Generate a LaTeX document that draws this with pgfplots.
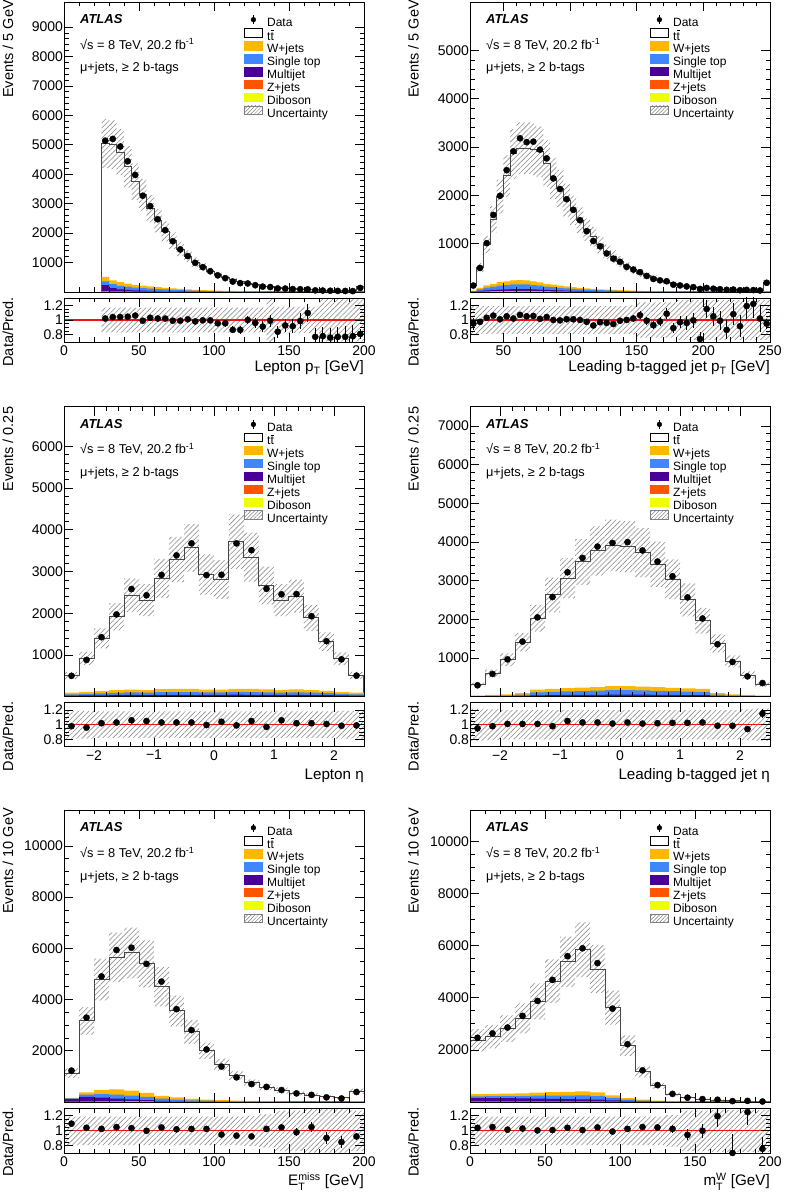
\documentclass[border=0pt]{standalone}
\usepackage{fontspec}
\setmainfont{Liberation Sans}
\usepackage{amsmath}
\usepackage{pgfplots}
\usepackage{pgfplotstable}
\pgfplotsset{compat=1.18}
\usepgfplotslibrary{fillbetween}
\usetikzlibrary{patterns,patterns.meta}

\definecolor{cW}{RGB}{255,183,0}
\definecolor{cST}{RGB}{64,134,255}
\definecolor{cMJ}{RGB}{72,0,150}
\definecolor{cZ}{RGB}{255,85,0}
\definecolor{cDB}{RGB}{240,255,0}
\definecolor{cRed}{RGB}{235,20,20}

\newcommand{\ttbar}{t\kern0.3pt$\overline{\text{t}}$}

% ---------------- Panel A: lepton pT ----------------
\pgfplotstableread{
x mc wj st mj zj db u ru
25 5040 150 130 200 25 5 0.165 0.17
30 5000 130 130 110 20 5 0.165 0.17
35 4750 120 120 70 18 4 0.165 0.17
40 4250 105 110 50 15 4 0.165 0.17
45 3750 95 100 35 13 3 0.165 0.17
50 3300 85 90 28 12 3 0.165 0.17
55 2830 75 80 22 10 3 0.165 0.17
60 2420 65 70 18 9 2 0.165 0.17
65 2060 57 60 15 8 2 0.165 0.17
70 1740 50 52 12 7 2 0.165 0.17
75 1460 44 44 10 6 2 0.165 0.17
80 1210 38 37 8 5 2 0.165 0.17
85 1010 33 31 7 4 1 0.165 0.17
90 850 28 26 6 4 1 0.165 0.17
95 710 24 22 5 3 1 0.165 0.17
100 590 21 18 4 3 1 0.165 0.17
105 490 18 15 3 2 1 0.165 0.17
110 410 15 13 3 2 1 0.165 0.17
115 345 13 11 2 2 1 0.165 0.17
120 290 11 9 2 1 1 0.165 0.17
125 240 10 8 2 1 0 0.165 0.17
130 200 9 7 1 1 0 0.17 0.17
135 170 8 6 1 1 0 0.3 0.3
140 145 7 5 1 1 0 0.18 0.18
145 125 6 4 1 1 0 0.18 0.18
150 108 5 4 1 1 0 0.18 0.18
155 95 5 3 1 0 0 0.18 0.18
160 82 4 3 1 0 0 0.18 0.18
165 72 4 3 0 0 0 0.18 0.18
170 63 3 2 0 0 0 0.29 0.29
175 56 3 2 0 0 0 0.29 0.29
180 50 3 2 0 0 0 0.29 0.29
185 45 2 2 0 0 0 0.29 0.29
190 40 2 2 0 0 0 0.29 0.29
195 170 8 6 1 1 0 0.29 0.29
200 170 8 6 1 1 0 0.29 0.29
}\hA
\pgfplotstableread{
c d de r re
27.5 5140 72 1.02 0.015
32.5 5200 72 1.04 0.015
37.5 4940 70 1.04 0.016
42.5 4440 67 1.045 0.017
47.5 3975 63 1.06 0.018
52.5 3270 57 0.99 0.018
57.5 2915 54 1.03 0.02
62.5 2470 50 1.02 0.022
67.5 2100 46 1.02 0.023
72.5 1725 42 0.99 0.025
77.5 1445 38 0.99 0.027
82.5 1220 35 1.01 0.03
87.5 990 31 0.98 0.032
92.5 845 29 0.995 0.035
97.5 705 27 0.995 0.038
102.5 565 24 0.955 0.041
107.5 470 22 0.955 0.045
112.5 355 19 0.865 0.047
117.5 300 17 0.865 0.051
122.5 290 17 1.0 0.06
127.5 230 15 0.96 0.065
132.5 182 13 0.91 0.07
137.5 168 13 0.99 0.08
142.5 122 11 0.84 0.08
147.5 116 11 0.925 0.09
152.5 99 10 0.915 0.095
157.5 94 10 0.985 0.105
162.5 90 9.5 1.095 0.12
167.5 55 7.4 0.77 0.12
172.5 49 7 0.78 0.125
177.5 43 6.6 0.76 0.13
182.5 38 6.2 0.77 0.14
187.5 35 5.9 0.77 0.145
192.5 31 5.6 0.78 0.15
197.5 138 12 0.81 0.07
}\dA

% ---------------- Panel B: leading b-jet pT ----------------
\pgfplotstableread{
x mc wj st mj zj db u ru
25 140 10 12 5 2 1 0.18 0.19
30 510 30 34 13 6 2 0.18 0.19
35 980 47 54 20 10 4 0.18 0.19
40 1505 60 68 25 12 5 0.18 0.19
45 1970 72 82 31 14 6 0.18 0.19
50 2400 77 88 33 15 7 0.18 0.19
55 2855 84 96 36 17 7 0.18 0.19
60 2975 86 98 37 17 7 0.18 0.19
65 2975 84 96 36 17 7 0.18 0.19
70 2950 77 88 33 15 7 0.18 0.19
75 2900 70 80 30 14 6 0.18 0.19
80 2660 60 68 25 12 5 0.18 0.19
85 2350 52 60 23 11 4 0.18 0.19
90 2140 46 52 19 9 4 0.18 0.19
95 1900 40 46 17 8 4 0.18 0.19
100 1685 35 40 15 7 3 0.18 0.19
105 1485 30 34 13 6 2 0.18 0.19
110 1290 26 30 11 6 2 0.18 0.19
115 1140 23 26 10 4 2 0.18 0.19
120 975 19 22 8 4 2 0.18 0.19
125 830 17 19 7 3 2 0.18 0.19
130 730 15 17 6 3 1 0.18 0.19
135 630 13 14 5 3 1 0.18 0.19
140 520 11 12 5 2 1 0.18 0.19
145 455 9 11 4 2 1 0.19 0.2
150 385 8 9 4 1 1 0.2 0.24
155 335 7 8 3 1 1 0.2 0.24
160 290 6 7 2 1 1 0.2 0.24
165 245 5 6 2 1 1 0.2 0.24
170 205 5 5 2 1 0 0.22 0.24
175 170 4 4 2 1 0 0.22 0.24
180 140 4 4 1 1 0 0.25 0.27
185 120 3 4 1 1 0 0.25 0.27
190 100 3 3 1 1 0 0.25 0.27
195 85 3 3 1 0 0 0.25 0.27
200 72 2 3 1 0 0 0.25 0.27
205 65 2 2 1 0 0 0.25 0.27
210 58 2 2 1 0 0 0.25 0.27
215 52 2 2 0 0 0 0.25 0.27
220 46 2 2 0 0 0 0.25 0.27
225 40 1 2 0 0 0 0.25 0.27
230 37 1 2 0 0 0 0.25 0.27
235 32 1 2 0 0 0 0.25 0.27
240 30 1 2 0 0 0 0.25 0.27
245 200 8 8 2 1 1 0.25 0.27
250 200 8 8 2 1 1 0.25 0.27
}\hB
\pgfplotstableread{
c d de r re
27.5 133 11.5 0.95 0.083
32.5 497 22 0.975 0.044
37.5 1010 32 1.03 0.032
42.5 1595 40 1.06 0.027
47.5 1990 45 1.01 0.023
52.5 2520 50 1.05 0.021
57.5 2910 54 1.02 0.019
62.5 3180 56 1.07 0.019
67.5 3100 56 1.05 0.019
72.5 3110 56 1.055 0.019
77.5 2945 54 1.015 0.019
82.5 2765 53 1.04 0.02
87.5 2350 48 1.0 0.021
92.5 2130 46 0.995 0.022
97.5 1920 44 1.01 0.023
102.5 1700 41 1.01 0.025
107.5 1485 39 1.0 0.026
112.5 1258 35 0.975 0.027
117.5 1055 32 0.925 0.028
122.5 945 31 0.97 0.031
127.5 797 28 0.96 0.034
132.5 690 26 0.945 0.036
137.5 624 25 0.99 0.04
142.5 520 23 1.0 0.044
147.5 464 22 1.02 0.047
152.5 410 20 1.065 0.053
157.5 332 18 0.99 0.054
162.5 270 16 0.93 0.057
167.5 240 15.5 0.98 0.063
172.5 222 15 1.085 0.073
177.5 151 12 0.89 0.072
182.5 136 12 0.97 0.083
187.5 115 11 0.96 0.09
192.5 100 10 0.995 0.1
197.5 63 8 0.74 0.093
202.5 83 9 1.15 0.126
207.5 68 8 1.05 0.127
212.5 57 7.5 0.99 0.131
217.5 45 6.7 0.865 0.129
222.5 50 7 1.08 0.153
227.5 37 6 0.915 0.15
232.5 44 6.6 1.19 0.18
237.5 39 6.2 1.22 0.195
242.5 31 5.6 1.02 0.183
247.5 190 14 0.95 0.069
}\dB

% ---------------- Panel C: lepton eta ----------------
\pgfplotstableread{
x mc wj st mj zj db u ru
-2.5 510 38 33 16 6 2 0.17 0.19
-2.25 918 46 40 20 7 2 0.17 0.19
-2.0 1397 54 47 23 8 3 0.17 0.18
-1.75 1915 62 54 26 10 3 0.17 0.18
-1.5 2434 68 60 29 10 3 0.165 0.18
-1.25 2314 64 56 27 10 3 0.165 0.18
-1.0 2833 72 63 31 11 3 0.165 0.18
-0.75 3288 74 65 31 11 4 0.165 0.18
-0.5 3567 74 65 31 11 4 0.16 0.18
-0.25 2929 68 60 29 10 3 0.165 0.18
0 2809 68 60 29 10 3 0.165 0.18
0.25 3711 76 66 32 12 4 0.175 0.18
0.5 3344 74 65 31 11 4 0.175 0.18
0.75 2666 70 61 30 11 3 0.17 0.18
1.0 2314 66 58 28 10 3 0.165 0.18
1.25 2410 70 61 30 11 3 0.165 0.18
1.5 1891 64 56 27 10 3 0.165 0.18
1.75 1317 56 49 24 8 3 0.17 0.18
2.0 910 46 40 20 7 2 0.17 0.19
2.25 510 38 33 16 6 2 0.17 0.19
2.5 510 38 33 16 6 2 0.17 0.19
}\hC
\pgfplotstableread{
c d de r re
-2.375 500 22 0.98 0.044
-2.125 881 30 0.96 0.033
-1.875 1425 38 1.02 0.027
-1.625 1972 44 1.03 0.023
-1.375 2580 51 1.06 0.021
-1.125 2430 49 1.05 0.021
-0.875 2918 54 1.03 0.019
-0.625 3387 58 1.03 0.018
-0.375 3674 61 1.03 0.017
-0.125 2914 54 0.995 0.018
0.125 2921 54 1.04 0.019
0.375 3674 61 0.99 0.016
0.625 3511 59 1.05 0.018
0.875 2586 51 0.97 0.019
1.125 2453 50 1.06 0.021
1.375 2458 50 1.02 0.021
1.625 1929 44 1.02 0.023
1.875 1330 36 1.01 0.028
2.125 896 30 0.985 0.033
2.375 505 22 0.99 0.044
}\dC

% ---------------- Panel D: leading b-jet eta ----------------
\pgfplotstableread{
x mc wj st mj zj db u ru
-2.5 310 11 13 4 1 1 0.17 0.22
-2.25 600 17 19 5 2 2 0.17 0.21
-2.0 955 23 25 7 3 2 0.17 0.2
-1.75 1410 34 38 11 5 2 0.17 0.2
-1.5 2031 68 76 22 9 5 0.17 0.2
-1.25 2630 76 84 24 10 6 0.17 0.2
-1.0 3064 84 92 26 11 7 0.17 0.2
-0.75 3485 89 99 28 12 7 0.17 0.2
-0.5 3769 95 105 30 12 8 0.17 0.2
-0.25 3916 103 113 32 14 8 0.17 0.2
0 3881 105 115 33 14 8 0.17 0.2
0.25 3726 99 109 31 13 8 0.17 0.2
0.5 3425 93 103 29 12 8 0.17 0.2
0.75 3038 87 97 28 11 7 0.17 0.2
1.0 2504 82 90 26 11 6 0.17 0.2
1.25 1962 76 84 24 10 6 0.17 0.2
1.5 1377 34 38 11 5 2 0.17 0.2
1.75 912 23 25 7 3 2 0.17 0.2
2.0 559 17 19 5 2 2 0.17 0.21
2.25 310 11 13 4 1 1 0.17 0.22
2.5 310 11 13 4 1 1 0.17 0.22
}\hD
\pgfplotstableread{
c d de r re
-2.375 295 17 0.95 0.056
-2.125 588 24 0.98 0.04
-1.875 965 31 1.01 0.033
-1.625 1424 38 1.01 0.027
-1.375 2051 45 1.01 0.022
-1.125 2577 51 0.98 0.019
-0.875 3217 57 1.05 0.019
-0.625 3590 60 1.03 0.017
-0.375 3882 62 1.03 0.017
-0.125 3975 63 1.015 0.016
0.125 3997 63 1.03 0.016
0.375 3782 61 1.015 0.017
0.625 3494 59 1.02 0.017
0.875 3114 56 1.025 0.018
1.125 2567 51 1.025 0.02
1.375 2021 45 1.03 0.023
1.625 1356 37 0.985 0.027
1.875 898 30 0.985 0.033
2.125 525 23 0.94 0.041
2.375 353 19 1.15 0.061
}\dD

% ---------------- Panel E: MET ----------------
\pgfplotstableread{
x mc wj st mj zj db u ru
0 1120 20 30 100 8 2 0.17 0.19
10 3165 90 90 180 15 5 0.17 0.19
20 4783 160 140 140 22 8 0.17 0.19
30 5650 200 160 100 22 8 0.17 0.19
40 5819 190 150 70 20 10 0.17 0.19
50 5392 160 130 45 15 10 0.17 0.19
60 4498 110 90 25 10 5 0.17 0.19
70 3553 85 70 15 7 3 0.17 0.19
80 2738 62 50 10 5 3 0.17 0.19
90 2000 45 38 6 4 2 0.16 0.19
100 1456 34 28 4 3 1 0.16 0.19
110 1029 25 21 3 2 1 0.16 0.19
120 757 19 16 2 2 1 0.17 0.2
130 576 14 12 2 1 1 0.2 0.22
140 447 11 9 1 1 1 0.25 0.27
150 343 9 7 1 1 0 0.25 0.27
160 265 7 5 1 1 0 0.27 0.29
170 200 5 4 1 1 0 0.27 0.29
180 162 4 4 0 1 0 0.27 0.29
190 420 15 11 2 1 1 0.25 0.27
200 420 15 11 2 1 1 0.25 0.27
}\hE
\pgfplotstableread{
c d de r re
5 1226 35 1.095 0.032
15 3292 57 1.04 0.019
25 4903 70 1.025 0.016
35 5932 77 1.05 0.015
45 6023 78 1.035 0.015
55 5392 73 1.0 0.015
65 4700 69 1.045 0.016
75 3624 60 1.02 0.018
85 2806 53 1.025 0.02
95 2050 45 1.025 0.024
105 1383 37 0.95 0.027
115 962 31 0.935 0.032
125 700 26 0.925 0.037
135 590 24 1.025 0.044
145 467 22 1.045 0.05
155 336 18 0.98 0.056
165 278 17 1.05 0.066
175 181 13 0.905 0.075
185 138 12 0.85 0.085
195 389 20 0.925 0.05
}\dE

% ---------------- Panel F: mTW ----------------
\pgfplotstableread{
x mc wj st mj zj db u ru
0 2367 80 70 130 15 5 0.18 0.19
10 2507 85 75 130 15 5 0.18 0.19
20 2813 90 80 130 15 5 0.18 0.19
30 3209 100 90 120 15 5 0.18 0.19
40 3859 120 110 110 15 5 0.18 0.19
50 4638 135 125 100 15 5 0.18 0.19
60 5378 145 135 90 15 5 0.18 0.19
70 5838 160 150 80 15 5 0.18 0.19
80 5098 145 135 70 15 5 0.18 0.19
90 3617 95 90 50 10 5 0.18 0.19
100 2163 55 55 30 7 3 0.18 0.19
110 1155 33 33 18 4 2 0.18 0.19
120 622 20 20 11 3 1 0.18 0.19
130 303 13 13 7 1 1 0.2 0.21
140 176 8 8 4 1 1 0.25 0.27
150 112 6 5 3 1 0 0.25 0.27
160 73 4 3 2 1 0 0.27 0.28
170 48 3 2 1 1 0 0.27 0.28
180 35 2 2 1 0 0 0.27 0.28
190 25 2 1 1 0 0 0.27 0.28
200 25 2 1 1 0 0 0.27 0.28
}\hF
\pgfplotstableread{
c d de r re
5 2462 50 1.04 0.021
15 2632 51 1.05 0.021
25 2855 53 1.015 0.019
35 3305 57 1.03 0.018
45 3878 62 1.005 0.016
55 4684 68 1.01 0.015
65 5593 75 1.04 0.014
75 5896 77 1.01 0.013
85 5327 73 1.045 0.014
95 3581 60 0.99 0.017
105 2217 47 1.025 0.022
115 1213 35 1.05 0.03
125 650 25 1.045 0.041
135 311 18 1.025 0.058
145 166 13 0.945 0.073
155 112 11 1.0 0.095
165 87 9 1.195 0.14
175 34 6 0.705 0.25
185 44 7 1.25 0.17
195 19 4.4 0.76 0.16
}\dF

\pgfplotsset{
  atl/.style={scale only axis, width=300pt, axis on top, anchor=north west,
    axis line style={line width=0.8pt},
    xtick pos=both, ytick pos=both, tick align=inside,
    major tick length=9pt, minor tick length=4.5pt,
    every tick/.append style={black, line width=0.6pt},
    every minor tick/.append style={black, line width=0.6pt},
    tick label style={font=\fontsize{14}{16}\selectfont},
    yticklabel style={xshift=2.5pt},
    /pgf/number format/assume math mode=true,
    /pgf/number format/1000 sep={},
    scaled x ticks=false, scaled y ticks=false},
  mainax/.style={atl, xticklabel=\empty, ymin=0, minor y tick num=4,
    legend style={at={(rel axis cs:0.6,0.956)}, anchor=north west, draw=none, fill=none,
      inner sep=0pt, font=\fontsize{12}{13}\selectfont, row sep=-2.3pt, column sep=4pt,
      nodes={inner sep=0.5pt, text height=9pt, text depth=3pt}},
    legend cell align=left},
  ratax/.style={atl, height=44pt, ymin=0.7, ymax=1.3, ytick={0.8,1,1.2},
    yticklabels={0.8,1,1.2}, minor y tick num=3, clip mode=individual,
    every axis x label/.style={at={(rel axis cs:1,0)}, anchor=base east, inner sep=0pt,
      font=\fontsize{15.2}{18}\selectfont}},
  hatch/.style={draw=none, pattern={Lines[angle=45,distance=3.6pt,line width=0.6pt]}, pattern color=gray!90},
  dat/.style={only marks, mark=*, mark size=3.1pt, black,
    error bars/.cd, y dir=both, y explicit, error mark=none,
    error bar style={line width=1pt, black}},
}
\tikzset{ylab/.style={rotate=90, anchor=south east, inner sep=0pt, font=\fontsize{14.5}{17}\selectfont}}

\newcommand{\atlaslegend}{%
  \addlegendimage{legend image code/.code={\path[draw=none,fill=none] (0pt,-0.5pt) rectangle (18pt,9pt);
    \draw[black,line width=1pt] (9pt,0pt)--(9pt,8.5pt); \fill[black] (9pt,4.25pt) circle (2.4pt);}}
  \addlegendentry{Data}
  \addlegendimage{legend image code/.code={\draw[line width=0.7pt,fill=white] (0.35pt,0pt) rectangle (17.65pt,8.5pt);}}
  \addlegendentry{\ttbar}
  \addlegendimage{legend image code/.code={\fill[cW] (0pt,0pt) rectangle (18pt,8.5pt);}}
  \addlegendentry{W+jets}
  \addlegendimage{legend image code/.code={\fill[cST] (0pt,0pt) rectangle (18pt,8.5pt);}}
  \addlegendentry{Single top}
  \addlegendimage{legend image code/.code={\fill[cMJ] (0pt,0pt) rectangle (18pt,8.5pt);}}
  \addlegendentry{Multijet}
  \addlegendimage{legend image code/.code={\fill[cZ] (0pt,0pt) rectangle (18pt,8.5pt);}}
  \addlegendentry{Z+jets}
  \addlegendimage{legend image code/.code={\fill[cDB] (0pt,0pt) rectangle (18pt,8.5pt);}}
  \addlegendentry{Diboson}
  \addlegendimage{legend image code/.code={\draw[line width=0.5pt, gray, pattern={Lines[angle=45,distance=2.6pt,line width=0.5pt]}, pattern color=gray] (0.25pt,0pt) rectangle (17.75pt,8.5pt);}}
  \addlegendentry{Uncertainty}
}
\newcommand{\atlastext}{%
  \node[anchor=west,inner sep=0pt,font=\fontsize{13}{15}\selectfont\bfseries\itshape] at (rel axis cs:0.053,0.94) {ATLAS};
  \node[anchor=west,inner sep=0pt,font=\fontsize{12.8}{15}\selectfont] at (rel axis cs:0.053,0.853) {√s = 8 TeV, 20.2 fb$^{\text{-1}}$};
  \node[anchor=west,inner sep=0pt,font=\fontsize{12.8}{15}\selectfont] at (rel axis cs:0.053,0.77) {μ+jets, ≥ 2 b-tags};
}
% #1 hist table, #2 data table, #3 id
\newcommand{\mainplots}[3]{%
  \addplot[const plot, draw=black!72, line width=1pt] table[x=x,y=mc]{#1} \closedcycle;
  \addplot[const plot, fill=cW, draw=none] table[x=x, y expr=\thisrow{wj}+\thisrow{st}+\thisrow{mj}+\thisrow{zj}+\thisrow{db}]{#1} \closedcycle;
  \addplot[const plot, fill=cST, draw=none] table[x=x, y expr=\thisrow{st}+\thisrow{mj}+\thisrow{zj}+\thisrow{db}]{#1} \closedcycle;
  \addplot[const plot, fill=cMJ, draw=none] table[x=x, y expr=\thisrow{mj}+\thisrow{zj}+\thisrow{db}]{#1} \closedcycle;
  \addplot[const plot, fill=cZ, draw=none] table[x=x, y expr=\thisrow{zj}+\thisrow{db}]{#1} \closedcycle;
  \addplot[const plot, fill=cDB, draw=none] table[x=x, y=db]{#1} \closedcycle;
  \addplot[const plot, draw=none, name path=up#3] table[x=x, y expr=\thisrow{mc}*(1+\thisrow{u})]{#1};
  \addplot[const plot, draw=none, name path=lo#3] table[x=x, y expr=\thisrow{mc}*(1-\thisrow{u})]{#1};
  \addplot[hatch] fill between[of=up#3 and lo#3];
  \addplot[dat] table[x=c, y=d, y error=de]{#2};
}
% #1 hist, #2 data, #3 xmin, #4 xmax, #5 id
\newcommand{\ratioplots}[5]{%
  \addplot[const plot, draw=none, name path=ru#5] table[x=x, y expr=1+\thisrow{ru}]{#1};
  \addplot[const plot, draw=none, name path=rl#5] table[x=x, y expr=1-\thisrow{ru}]{#1};
  \addplot[hatch] fill between[of=ru#5 and rl#5];
  \addplot[draw=cRed, color=cRed, line width=1.1pt] coordinates {(#3,1) (#4,1)};
  \addplot[dat] table[x=c, y=r, y error=re]{#2};
}

\begin{document}
\begin{tikzpicture}
\path (0pt,0pt) rectangle (784pt,1192pt);

% ===== Panel A =====
\begin{axis}[mainax, name=mA, at={(64pt,1190pt)}, height=290pt,
  xmin=0, xmax=200, xtick={0,50,...,200}, minor x tick num=4,
  ymax=9850, ytick={1000,2000,...,9000}]
\atlaslegend
\mainplots{\hA}{\dA}{A}
\atlastext
\end{axis}
\begin{axis}[ratax, name=rA, at={(64pt,894pt)},
  xmin=0, xmax=200, xtick={0,50,...,200}, minor x tick num=4,
  xlabel={Lepton p$_{\text{T}}$ [GeV]}, xlabel style={yshift=-30pt}]
\ratioplots{\hA}{\dA}{0}{200}{A}
\end{axis}
\node[ylab] at ([xshift=-50.5pt,yshift=2pt]mA.north west) {Events / 5 GeV};
\node[ylab] at ([xshift=-50.5pt,yshift=1pt]rA.north west) {Data/Pred.};

% ===== Panel B =====
\begin{axis}[mainax, name=mB, at={(470pt,1190pt)}, height=290pt,
  xmin=25, xmax=250, xtick={50,100,...,250}, minor x tick num=4,
  ymax=6000, ytick={1000,2000,...,5000}]
\atlaslegend
\mainplots{\hB}{\dB}{B}
\atlastext
\end{axis}
\begin{axis}[ratax, name=rB, at={(470pt,894pt)},
  xmin=25, xmax=250, xtick={50,100,...,250}, minor x tick num=4,
  xlabel={Leading b-tagged jet p$_{\text{T}}$ [GeV]}, xlabel style={yshift=-30pt}]
\ratioplots{\hB}{\dB}{25}{250}{B}
\end{axis}
\node[ylab] at ([xshift=-51pt,yshift=2pt]mB.north west) {Events / 5 GeV};
\node[ylab] at ([xshift=-51pt,yshift=1pt]rB.north west) {Data/Pred.};

% ===== Panel C =====
\begin{axis}[mainax, name=mC, at={(64pt,785.3pt)}, height=290pt,
  xmin=-2.5, xmax=2.5, xtick={-2,-1,0,1,2}, minor x tick num=4,
  ymax=6950, ytick={1000,2000,...,6000}]
\atlaslegend
\mainplots{\hC}{\dC}{C}
\atlastext
\end{axis}
\begin{axis}[ratax, name=rC, at={(64pt,489.3pt)},
  xmin=-2.5, xmax=2.5, xtick={-2,-1,0,1,2}, xticklabels={−2,−1,0,1,2}, minor x tick num=4,
  xlabel={Lepton η}, xlabel style={yshift=-33pt}]
\ratioplots{\hC}{\dC}{-2.5}{2.5}{C}
\end{axis}
\node[ylab] at ([xshift=-50.5pt,yshift=0pt]mC.north west) {Events / 0.25};
\node[ylab] at ([xshift=-50.5pt,yshift=1pt]rC.north west) {Data/Pred.};

% ===== Panel D =====
\begin{axis}[mainax, name=mD, at={(470pt,785.3pt)}, height=290pt,
  xmin=-2.5, xmax=2.5, xtick={-2,-1,0,1,2}, minor x tick num=4,
  ymax=7500, ytick={1000,2000,...,7000}]
\atlaslegend
\mainplots{\hD}{\dD}{D}
\atlastext
\end{axis}
\begin{axis}[ratax, name=rD, at={(470pt,489.3pt)},
  xmin=-2.5, xmax=2.5, xtick={-2,-1,0,1,2}, xticklabels={−2,−1,0,1,2}, minor x tick num=4,
  xlabel={Leading b-tagged jet η}, xlabel style={yshift=-33pt}]
\ratioplots{\hD}{\dD}{-2.5}{2.5}{D}
\end{axis}
\node[ylab] at ([xshift=-51pt,yshift=0pt]mD.north west) {Events / 0.25};
\node[ylab] at ([xshift=-51pt,yshift=1pt]rD.north west) {Data/Pred.};

% ===== Panel E =====
\begin{axis}[mainax, name=mE, at={(64pt,382pt)}, height=292pt,
  xmin=0, xmax=200, xtick={0,50,...,200}, minor x tick num=4,
  ymax=11400, ytick={2000,4000,...,10000}, minor y tick num=3]
\atlaslegend
\mainplots{\hE}{\dE}{E}
\atlastext
\end{axis}
\begin{axis}[ratax, name=rE, at={(64pt,83.7pt)}, height=45pt,
  xmin=0, xmax=200, xtick={0,50,...,200}, minor x tick num=4,
  xlabel={E$_{\text{T}}^{\text{miss}}$ [GeV]}, xlabel style={yshift=-32.5pt}]
\ratioplots{\hE}{\dE}{0}{200}{E}
\end{axis}
\node[ylab] at ([xshift=-50.5pt,yshift=2pt]mE.north west) {Events / 10 GeV};
\node[ylab] at ([xshift=-50.5pt,yshift=1pt]rE.north west) {Data/Pred.};

% ===== Panel F =====
\begin{axis}[mainax, name=mF, at={(470pt,382pt)}, height=292pt,
  xmin=0, xmax=200, xtick={0,50,...,200}, minor x tick num=4,
  ymax=11200, ytick={2000,4000,...,10000}, minor y tick num=3]
\atlaslegend
\mainplots{\hF}{\dF}{F}
\atlastext
\end{axis}
\begin{axis}[ratax, name=rF, at={(470pt,83.7pt)}, height=45pt,
  xmin=0, xmax=200, xtick={0,50,...,200}, minor x tick num=4,
  xlabel={m$_{\text{T}}^{\text{W}}$ [GeV]}, xlabel style={yshift=-32.5pt}]
\ratioplots{\hF}{\dF}{0}{200}{F}
\end{axis}
\node[ylab] at ([xshift=-51pt,yshift=2pt]mF.north west) {Events / 10 GeV};
\node[ylab] at ([xshift=-51pt,yshift=1pt]rF.north west) {Data/Pred.};
\end{tikzpicture}
\end{document}
